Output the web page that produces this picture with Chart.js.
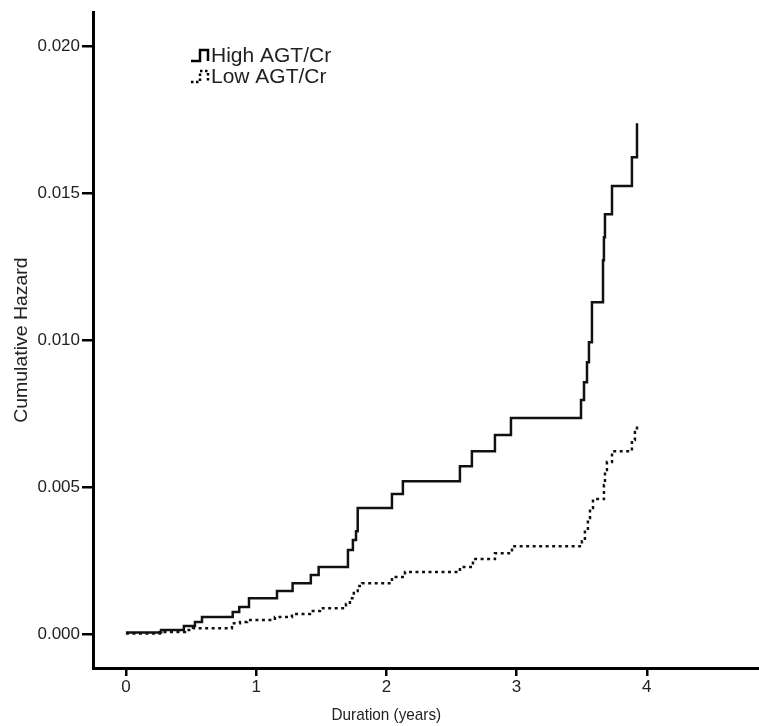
<!DOCTYPE html>
<html>
<head>
<meta charset="utf-8">
<script src="https://cdn.jsdelivr.net/npm/chart.js@4.4.1/dist/chart.umd.min.js"></script>
<style>
  html, body { margin: 0; padding: 0; background: #fff; }
  #wrap { width: 759px; height: 726px; position: relative; }
</style>
</head>
<body>
<div id="wrap"><canvas id="hazard" width="759" height="726"></canvas></div>
<script>
// step points: time in years, cumulative hazard
const highTime = [0.00, 0.27, 0.445, 0.53, 0.584, 0.82, 0.87, 0.945, 1.16, 1.28, 1.42, 1.48, 1.705, 1.743, 1.767, 1.78,
  2.043, 2.127, 2.565, 2.657, 2.834, 2.957, 3.495, 3.518, 3.541, 3.556, 3.579, 3.664, 3.671, 3.679, 3.733, 3.886, 3.925];
const highHazard = [0.00005, 0.00014, 0.00027, 0.00041, 0.00058, 0.00075, 0.00092, 0.00122, 0.00146, 0.00173, 0.00201, 0.00228, 0.00286, 0.0032, 0.0035, 0.00429,
  0.00476, 0.0052, 0.00571, 0.00622, 0.00677, 0.00735, 0.00796, 0.00857, 0.00925, 0.00993, 0.01129, 0.01272, 0.0135, 0.01428, 0.01524, 0.01622, 0.01738];

const lowTime = [0.00, 0.26, 0.453, 0.515, 0.814, 0.876, 0.93, 1.144, 1.275, 1.413, 1.49, 1.69, 1.72, 1.75, 1.78, 1.813,
  2.043, 2.143, 2.565, 2.665, 2.834, 2.965, 3.502, 3.525, 3.548, 3.564, 3.587, 3.671, 3.679, 3.694, 3.733, 3.886, 3.909, 3.925];
const lowHazard = [0.00002, 0.00007, 0.00014, 0.0002, 0.00037, 0.00041, 0.00048, 0.00058, 0.00068, 0.00078, 0.00088, 0.00102, 0.00122, 0.00146, 0.00163, 0.00173,
  0.00194, 0.00211, 0.00228, 0.00255, 0.00275, 0.00299, 0.00316, 0.00354, 0.00395, 0.00429, 0.00459, 0.00507, 0.00558, 0.00585, 0.00622, 0.0066, 0.00687, 0.00711];

const xTicks = [0, 1, 2, 3, 4];
const yTicks = [0, 0.005, 0.010, 0.015, 0.020];
const groups = ['High AGT/Cr', 'Low AGT/Cr'];
const xTitle = 'Duration (years)';
const yTitle = 'Cumulative Hazard';

const FONT = '"Liberation Sans", Arial, sans-serif';

function toPoints(xs, ys) {
  return xs.map((x, i) => ({ x: x, y: ys[i] }));
}

// legend like the original (small step glyph + label) and both axis titles
const extraText = {
  id: 'extraText',
  afterDraw(chart) {
    const c = chart.ctx;
    c.save();
    c.strokeStyle = '#000';
    c.fillStyle = '#222';
    c.textBaseline = 'middle';
    const x0 = 191, rows = [55, 76];
    rows.forEach((y, i) => {
      c.lineWidth = 2.5;
      c.setLineDash(i === 0 ? [] : [2.5, 2.5]);
      c.beginPath();
      c.moveTo(x0, y + 6);
      c.lineTo(x0 + 9, y + 6);
      c.lineTo(x0 + 9, y - 5);
      c.lineTo(x0 + 17, y - 5);
      c.lineTo(x0 + 17, y + 6);
      c.stroke();
      c.setLineDash([]);
      c.font = '21px ' + FONT;
      c.fillText(groups[i], x0 + 20, y + 1);
    });

    c.textAlign = 'center';
    const xs = chart.scales.x;
    c.save();
    c.translate(xs.getPixelForValue(2), 715);
    c.scale(0.9, 1);
    c.font = '17px ' + FONT;
    c.fillText(xTitle, 0, 0);
    c.restore();

    const ys = chart.scales.y;
    c.save();
    c.translate(22, ys.getPixelForValue(0.0100));
    c.rotate(-Math.PI / 2);
    c.scale(1.08, 1);
    c.font = '18px ' + FONT;
    c.fillText(yTitle, 0, 0);
    c.restore();
    c.restore();
  }
};

const ctx = document.getElementById('hazard').getContext('2d');

const hazardChart = new Chart(ctx, {
  type: 'line',
  data: {
    datasets: [{
      label: groups[0],
      data: toPoints(highTime, highHazard),
      borderColor: '#111',
      borderWidth: 2.5,
      stepped: true,
      pointRadius: 0,
      fill: false
    }, {
      label: groups[1],
      data: toPoints(lowTime, lowHazard),
      borderColor: '#111',
      borderWidth: 2.5,
      borderDash: [3, 3.5],
      stepped: true,
      pointRadius: 0,
      fill: false
    }]
  },
  options: {
    responsive: false,
    animation: false,
    layout: { padding: { top: 12, right: 0, left: 0, bottom: 0 } },
    plugins: {
      legend: { display: false },
      tooltip: { enabled: false }
    },
    scales: {
      x: {
        type: 'linear',
        min: -0.253,
        max: 4.862,
        afterBuildTicks: (axis) => { axis.ticks = xTicks.map(v => ({ value: v })); },
        afterFit: (axis) => { axis.height = 58; },
        border: { display: true, color: '#000', width: 3 },
        grid: { drawOnChartArea: false, drawTicks: true, tickLength: 8, color: '#000', lineWidth: 2.5 },
        ticks: { color: '#222', font: { family: FONT, size: 17 }, padding: 1 },
        title: { display: false }
      },
      y: {
        type: 'linear',
        min: -0.001156,
        max: 0.021156,
        afterBuildTicks: (axis) => { axis.ticks = yTicks.map(v => ({ value: v })); },
        afterFit: (axis) => { axis.width = 93; },
        border: { display: true, color: '#000', width: 3 },
        grid: { drawOnChartArea: false, drawTicks: true, tickLength: 11, color: '#000', lineWidth: 2.5 },
        ticks: { color: '#222', font: { family: FONT, size: 17 }, padding: 2, callback: (v) => v.toFixed(3) },
        title: { display: false }
      }
    }
  },
  plugins: [extraText]
});
</script>
</body>
</html>
